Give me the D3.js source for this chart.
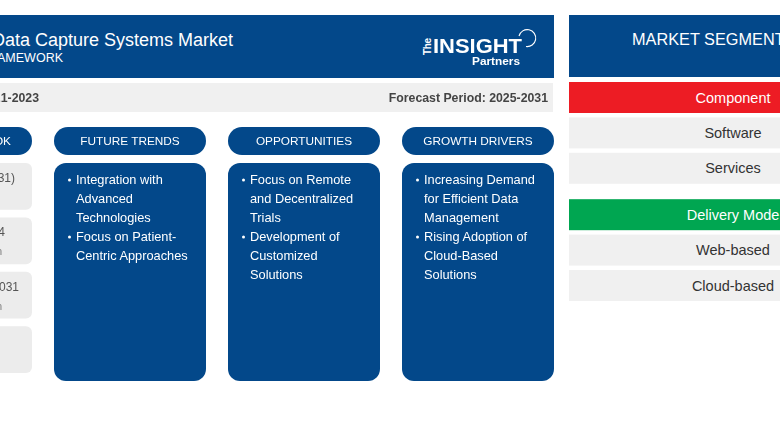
<!DOCTYPE html>
<html>
<head>
<meta charset="utf-8">
<script src="https://cdnjs.cloudflare.com/ajax/libs/d3/7.8.5/d3.min.js"></script>
<style>
  html, body { margin: 0; padding: 0; background: #fff; overflow: hidden; }
  svg { display: block; font-family: "Liberation Sans", Arial, sans-serif; filter: blur(0.35px); }
</style>
</head>
<body>
<svg></svg>
<script>
const titleLines = ["Electronic Data Capture Systems Market", "REPORT FRAMEWORK"];
const periods = ["Historic Period: 2021-2023", "Forecast Period: 2025-2031"];
const columnNames = ["MARKET OUTLOOK", "FUTURE TRENDS", "OPPORTUNITIES", "GROWTH DRIVERS"];
const trends = [["Integration with", "Advanced", "Technologies"], ["Focus on Patient-", "Centric Approaches"]];
const opportunities = [["Focus on Remote", "and Decentralized", "Trials"], ["Development of", "Customized", "Solutions"]];
const drivers = [["Increasing Demand", "for Efficient Data", "Management"], ["Rising Adoption of", "Cloud-Based", "Solutions"]];
const outlook = [["CAGR (2025-2031)", ""], ["Market Size 2024", "Million"], ["Market Size 2031", "Million"], ["", ""]];
const groups = ["Component", "Delivery Mode"];
const groupColors = ["#ed1c24", "#00a651"];
const groupItems = [["Software", "Services"], ["Web-based", "Cloud-based"]];

const size = { width: 780, height: 440 };
const navy = "#03488a";
const svg = d3.select("svg").attr("width", size.width).attr("height", size.height);

// column slots, the first one runs off the left edge
const colX = d3.scaleBand().domain(d3.range(4)).range([-120, 554]).paddingInner(22 / 174).paddingOuter(0);

// header
svg.append("rect").attr("x", -10).attr("y", 15).attr("width", 564).attr("height", 63).attr("fill", navy);
svg.append("text").attr("x", 233).attr("y", 46).attr("text-anchor", "end").attr("fill", "#fff")
  .attr("font-size", 18).text(titleLines[0]);
svg.append("text").attr("x", 63).attr("y", 62).attr("text-anchor", "end").attr("fill", "#fff")
  .attr("font-size", 12.5).text(titleLines[1]);

// logo
const logo = svg.append("g");
logo.append("text").attr("transform", "translate(431,55) rotate(-90)").attr("fill", "#fff")
  .attr("font-size", 10).attr("font-weight", "bold").attr("textLength", 17).text("The");
logo.append("text").attr("x", 433).attr("y", 53).attr("fill", "#fff").attr("font-size", 21).attr("font-weight", "bold")
  .attr("textLength", 89).attr("lengthAdjust", "spacingAndGlyphs").text("INSIGHT");
logo.append("text").attr("x", 472).attr("y", 65).attr("fill", "#fff").attr("font-size", 11).attr("font-weight", "bold")
  .attr("textLength", 48).attr("lengthAdjust", "spacingAndGlyphs").text("Partners");
logo.append("path").attr("d", "M519,36 A8.5,8.5 0 1 1 526,46.5").attr("fill", "none").attr("stroke", "#fff").attr("stroke-width", 1.1);

// period band
svg.append("rect").attr("x", -10).attr("y", 83).attr("width", 563).attr("height", 29).attr("fill", "#f0f0f0");
svg.append("text").attr("x", 39).attr("y", 102).attr("text-anchor", "end").attr("fill", "#444")
  .attr("font-size", 12.3).attr("font-weight", "bold").text(periods[0]);
svg.append("text").attr("x", 548).attr("y", 102).attr("text-anchor", "end").attr("fill", "#444")
  .attr("font-size", 12.3).attr("font-weight", "bold").text(periods[1]);

// pills
const pills = svg.selectAll("g.pill").data(columnNames).enter().append("g").attr("class", "pill")
  .attr("transform", (d, i) => `translate(${colX(i)},127)`);
pills.append("rect").attr("width", colX.bandwidth()).attr("height", 28).attr("rx", 14).attr("fill", navy);
pills.append("text").attr("x", colX.bandwidth() / 2).attr("y", 18).attr("text-anchor", "middle")
  .attr("fill", "#fff").attr("font-size", 11.8).text(d => d);

// blue cards with bullets
const bulletCols = [trends, opportunities, drivers];
const cards = svg.selectAll("g.card").data(bulletCols).enter().append("g").attr("class", "card")
  .attr("transform", (d, i) => `translate(${colX(i + 1)},163)`);
cards.append("rect").attr("width", colX.bandwidth()).attr("height", 218).attr("rx", 12).attr("fill", navy);
cards.each(function(col) {
  const g = d3.select(this);
  let row = 0;
  col.forEach(lines => {
    lines.forEach((line, j) => {
      if (j === 0) g.append("circle").attr("cx", 15.5).attr("cy", 17 + row * 19).attr("r", 1.5).attr("fill", "#fff");
      g.append("text").attr("x", 22).attr("y", 21 + row * 19).attr("fill", "#fff").attr("font-size", 12.8).text(line);
      row++;
    });
  });
});

// outlook cards
const outlookY = d3.scaleBand().domain(d3.range(4)).range([163, 373]).paddingInner(0.14);
const outlookEnds = [15, 5, 19, 0];
const outCards = svg.selectAll("g.out").data(outlook).enter().append("g").attr("class", "out")
  .attr("transform", (d, i) => `translate(${colX(0)},${outlookY(i)})`);
outCards.append("rect").attr("width", colX.bandwidth()).attr("height", outlookY.bandwidth()).attr("rx", 6).attr("fill", "#ececec");
outCards.append("text").attr("x", (d, i) => outlookEnds[i] - colX(0)).attr("y", 19).attr("text-anchor", "end")
  .attr("fill", "#555").attr("font-size", 12).text(d => d[0]);
outCards.append("text").attr("x", 2 - colX(0)).attr("y", 38).attr("text-anchor", "end")
  .attr("fill", "#777").attr("font-size", 10).text(d => d[1]);

// market segments
svg.append("rect").attr("x", 569).attr("y", 15).attr("width", 220).attr("height", 62).attr("fill", navy);
svg.append("text").attr("x", 632).attr("y", 45).attr("fill", "#fff").attr("font-size", 16.3).text("MARKET SEGMENTATION");

const segRows = [];
groups.forEach((g, i) => {
  segRows.push({ label: g, color: groupColors[i], head: true, slot: segRows.length + i * 0.31 });
  groupItems[i].forEach(item => segRows.push({ label: item, color: "#f0f0f0", head: false, slot: segRows.length + i * 0.31 }));
});
const segY = d3.scaleLinear().domain([0, 5.31]).range([82, 270]);
const segs = svg.selectAll("g.seg").data(segRows).enter().append("g").attr("class", "seg")
  .attr("transform", d => `translate(569,${segY(d.slot)})`);
segs.append("rect").attr("width", 220).attr("height", 31).attr("fill", d => d.color);
segs.append("text").attr("x", 164).attr("y", 20.5).attr("text-anchor", "middle")
  .attr("fill", d => d.head ? "#fff" : "#333").attr("font-size", 14.5).text(d => d.label);
</script>
</body>
</html>
